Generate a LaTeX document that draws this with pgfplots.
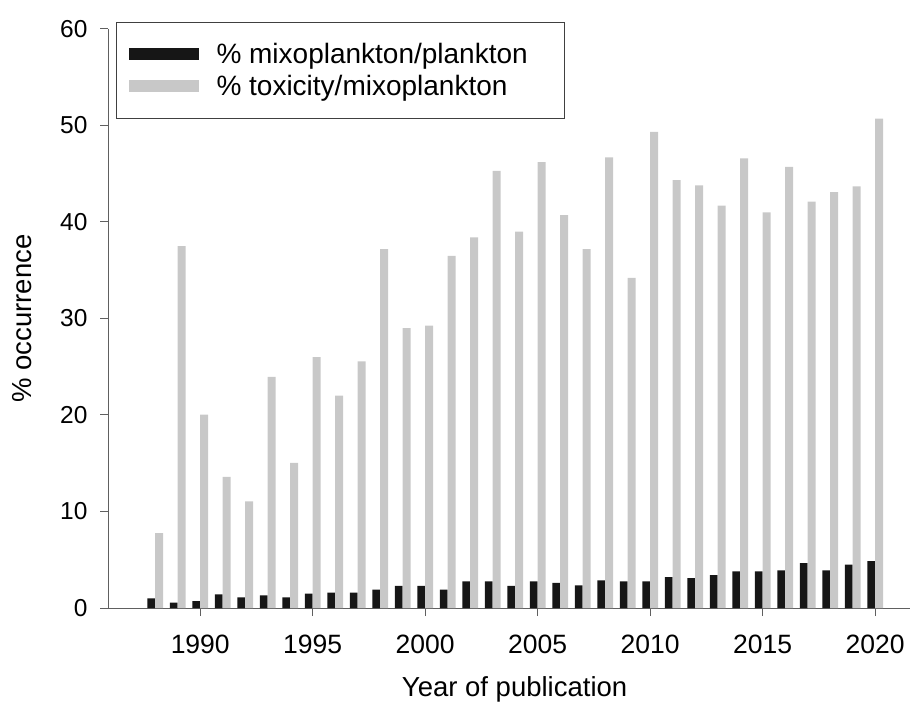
\documentclass[border=0pt]{standalone}
\usepackage{pgfplots}
\pgfplotsset{compat=1.18}
\usepackage{fontspec}
\setmainfont{Liberation Sans}
\definecolor{barblack}{HTML}{161616}
\definecolor{bargray}{HTML}{C8C8C8}
\definecolor{axisgray}{HTML}{606060}
\pgfplotstableread{
year mixo tox
1988 1.00 7.75
1989 0.55 37.5
1990 0.70 20.05
1991 1.40 13.6
1992 1.10 11.05
1993 1.30 23.95
1994 1.10 15.05
1995 1.50 26.0
1996 1.60 22.0
1997 1.60 25.55
1998 1.90 37.2
1999 2.30 29.0
2000 2.30 29.25
2001 1.90 36.5
2002 2.75 38.4
2003 2.75 45.3
2004 2.30 39.0
2005 2.75 46.2
2006 2.60 40.7
2007 2.35 37.2
2008 2.85 46.7
2009 2.75 34.2
2010 2.75 49.35
2011 3.20 44.35
2012 3.10 43.8
2013 3.40 41.7
2014 3.80 46.6
2015 3.80 41.0
2016 3.90 45.7
2017 4.65 42.1
2018 3.90 43.1
2019 4.50 43.7
2020 4.85 50.7
}\datatable
\begin{document}
\begin{tikzpicture}
\useasboundingbox (0,0) rectangle (913bp,704bp);
\begin{axis}[
  at={(108bp,96bp)}, anchor=south west,
  scale only axis, width=802bp, height=579bp,
  xmin=1985.9, xmax=2021.55, ymin=0, ymax=60,
  axis x line=bottom, axis y line=left,
  axis line style={-, axisgray, line width=1bp},
  xtick={1990,1995,...,2020},
  xticklabels={1990,1995,2000,2005,2010,2015,2020},
  ytick={0,10,...,60},
  tick align=outside, major tick length=8bp,
  tick style={axisgray, line width=1bp},
  /pgf/number format/assume math mode=true,
  xticklabel style={font=\fontsize{26.5bp}{30bp}\selectfont, yshift=-15bp},
  yticklabel style={font=\fontsize{24.5bp}{28bp}\selectfont, xshift=-9bp},
  xlabel={Year of publication}, ylabel={\% occurrence},
  label style={font=\fontsize{27.5bp}{32bp}\selectfont},
  xlabel style={at={(axis description cs:0.507,-0.1537)}, anchor=base},
  ylabel style={at={(axis description cs:-0.107,0.5)}, anchor=center},
  legend style={at={(axis description cs:0.01,1.012)}, anchor=north west,
    draw=black!75, line width=1bp, fill=white,
    font=\fontsize{28bp}{33bp}\selectfont,
    inner xsep=12bp, inner ysep=19bp, row sep=6bp},
  legend cell align=left,
  clip=false,
]
\addplot[ybar, bar width=0.35, bar shift=-0.175, fill=barblack, draw=none,
  legend image code/.code={\fill[barblack] (0bp,-6bp) rectangle (70bp,6bp); \path (86bp,0bp);}]
  table[x=year, y=mixo] {\datatable};
\addlegendentry{\makebox[334bp][l]{\% mixoplankton/plankton}}
\addplot[ybar, bar width=0.35, bar shift=0.175, fill=bargray, draw=none,
  legend image code/.code={\fill[bargray] (0bp,-6bp) rectangle (70bp,6bp); \path (86bp,0bp);}]
  table[x=year, y=tox] {\datatable};
\addlegendentry{\% toxicity/mixoplankton}
\end{axis}
\end{tikzpicture}
\end{document}
